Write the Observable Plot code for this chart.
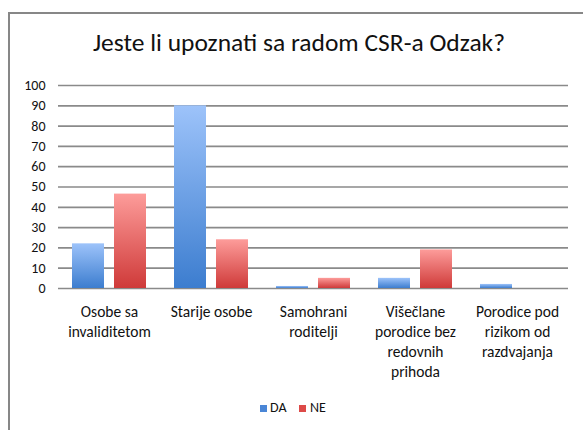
<!DOCTYPE html>
<html>
<head>
<meta charset="utf-8">
<script src="https://cdn.jsdelivr.net/npm/d3@7"></script>
<script src="https://cdn.jsdelivr.net/npm/@observablehq/plot@0.6"></script>
<style>
  body { margin: 0; background: #fff; }
  #wrap { position: relative; width: 583px; height: 430px; overflow: hidden; font-family: Carlito, Lato, sans-serif; }
  #frame { position: absolute; left: 8px; top: 12px; width: 600px; height: 440px; border-top: 2px solid #878787; border-left: 2px solid #878787; }
  #title { position: absolute; left: 0; top: 27px; width: 598px; text-align: center; font-size: 25.5px; color: #111; }
  #chart { position: absolute; left: 0; top: 70px; }
  #legend { position: absolute; top: 399px; left: 0; width: 583px; font-size: 14px; color: #111; }
  .sw { position: absolute; width: 7px; height: 7px; top: 6px; }
  .lt { position: absolute; top: 0px; }
</style>
</head>
<body>
<div id="wrap">
  <div id="frame"></div>
  <div id="title">Jeste li upoznati sa radom CSR-a Odzak?</div>
  <div id="chart"></div>
  <div id="legend">
    <div class="sw" style="left:260px;background:#4a86d6"></div><div class="lt" style="left:270px">DA</div>
    <div class="sw" style="left:299px;background:#dd4a48"></div><div class="lt" style="left:310px">NE</div>
  </div>
</div>
<script>
const categories = ["Osobe sa invaliditetom", "Starije osobe", "Samohrani roditelji", "Višečlane porodice bez redovnih prihoda", "Porodice pod rizikom od razdvajanja"];
const categoryLabels = ["Osobe sa\ninvaliditetom", "Starije osobe", "Samohrani\nroditelji", "Višečlane\nporodice bez\nredovnih\nprihoda", "Porodice pod\nrizikom od\nrazdvajanja"];
const series = ["DA", "NE"];
const valuesDA = [22, 90, 1, 5, 2];
const valuesNE = [46.5, 24, 5, 19, 0];
const yTicks = [0, 10, 20, 30, 40, 50, 60, 70, 80, 90, 100];

const rows = [];
categories.forEach((c, i) => {
  rows.push({category: c, series: "DA", value: valuesDA[i]});
  rows.push({category: c, series: "NE", value: valuesNE[i]});
});
const labelOf = new Map(categories.map((c, i) => [c, categoryLabels[i]]));

const chart = Plot.plot({
  width: 583,
  height: 320,
  marginTop: 15,
  marginBottom: 102,
  marginLeft: 57,
  marginRight: 15,
  style: {fontFamily: "Carlito, Lato, sans-serif", fontSize: "13px", color: "#111", background: "transparent"},
  fx: {domain: categories, padding: 0, label: null},
  x: {domain: series, paddingInner: 0.233, paddingOuter: 0.307, axis: null, label: null},
  y: {domain: [0, 100], label: null},
  marks: [
    Plot.gridY(yTicks, {stroke: "#8a8a8a", strokeOpacity: 1, strokeWidth: 1.7}),
    Plot.barY(rows.filter(d => d.series === "DA"), {fx: "category", x: "series", y: "value", fill: "url(#gDA)", inset: 0, filter: d => d.value > 0, style: {filter: "drop-shadow(1px 0px 1px rgba(0,0,0,0.25))"}}),
    Plot.barY(rows.filter(d => d.series === "NE"), {fx: "category", x: "series", y: "value", fill: "url(#gNE)", inset: 0, filter: d => d.value > 0, style: {filter: "drop-shadow(1px 0px 1px rgba(0,0,0,0.25))"}}),
    Plot.axisY(yTicks, {tickSize: 0, tickPadding: 13, fontSize: 14, label: null, fill: "#111"}),
    Plot.axisFx({anchor: "bottom", tickSize: 0, tickPadding: 14, fontSize: 15.5, lineHeight: 1.29, label: null, fill: "#111", tickFormat: d => labelOf.get(d)})
  ]
});

const ns = "http://www.w3.org/2000/svg";
const defs = document.createElementNS(ns, "defs");
defs.innerHTML = `
  <linearGradient id="gDA" x1="0" y1="0" x2="0" y2="1">
    <stop offset="0" stop-color="#9dc3fa"/>
    <stop offset="1" stop-color="#3c7dcf"/>
  </linearGradient>
  <linearGradient id="gNE" x1="0" y1="0" x2="0" y2="1">
    <stop offset="0" stop-color="#fd9c9a"/>
    <stop offset="1" stop-color="#cf3a39"/>
  </linearGradient>`;
chart.insertBefore(defs, chart.firstChild);
document.getElementById("chart").appendChild(chart);
</script>
</body>
</html>
